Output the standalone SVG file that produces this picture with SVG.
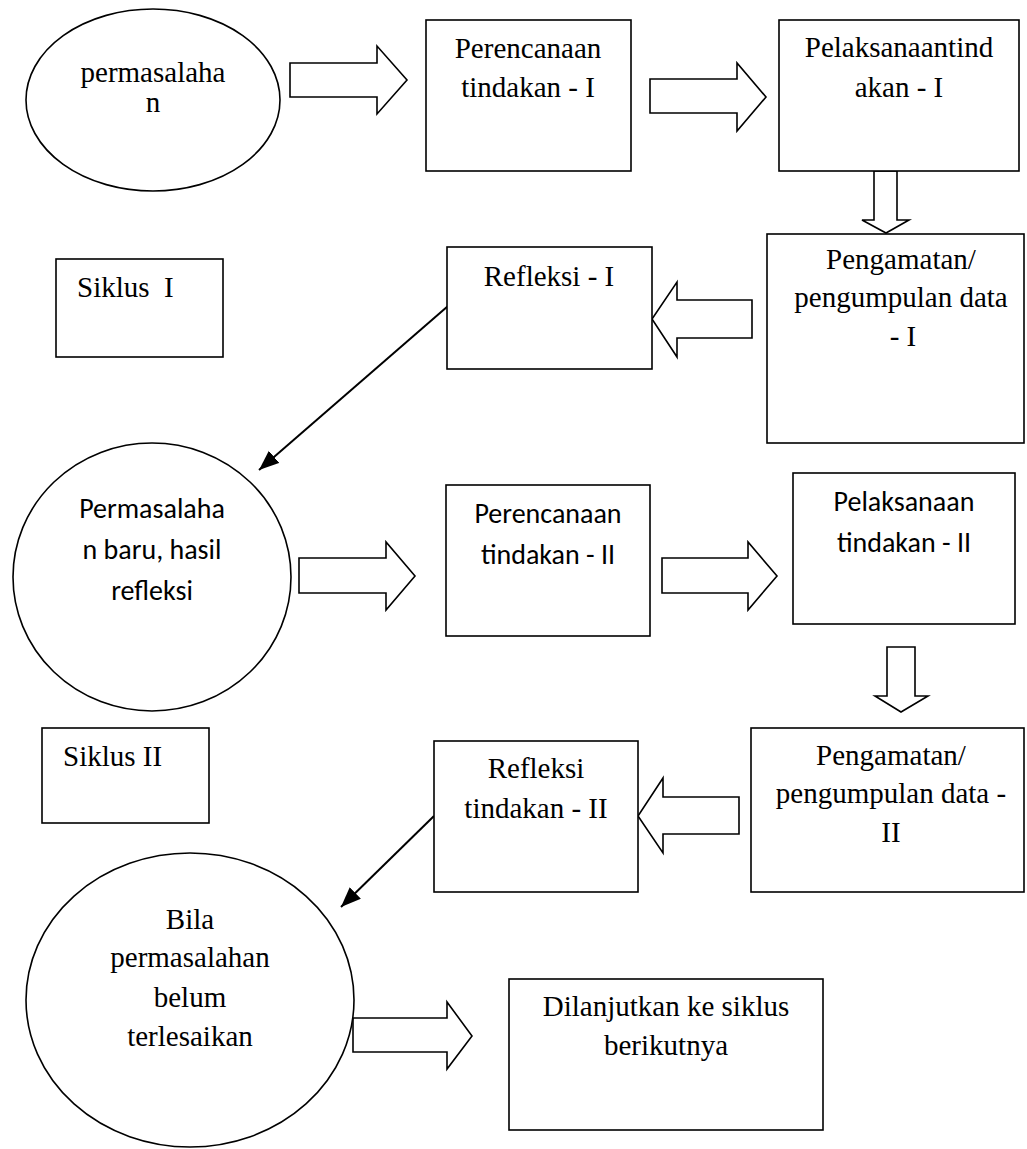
<svg xmlns="http://www.w3.org/2000/svg" width="1027" height="1149" viewBox="0 0 1027 1149">
<style>
  .shape { fill: #fff; stroke: #000; stroke-width: 1.6; }
  .barrow { fill: #fff; stroke: #000; stroke-width: 1.6; stroke-linejoin: miter; }
  .serif { font-family: "Liberation Serif", "Times New Roman", serif; font-size: 29px; fill: #000; }
  .sans { font-family: Carlito, Calibri, Lato, "Open Sans", sans-serif; font-size: 28px; fill: #000; }
  .c { text-anchor: middle; }
  .diag { stroke: #000; stroke-width: 2; fill: none; }
</style>
<defs>
  <marker id="ah" markerUnits="userSpaceOnUse" markerWidth="22" markerHeight="18" refX="20" refY="8" orient="auto">
    <path d="M0,0 L20,8 L0,16 Z" fill="#000"/>
  </marker>
</defs>
<rect width="1027" height="1149" fill="#fff"/>

<g id="connectors">
  <polygon class="barrow" points="290,63 377,63 377,46 407,80 377,114 377,97 290,97"/>
  <polygon class="barrow" points="650,79 737,79 737,63 766,97 737,131 737,113 650,113"/>
  <polygon class="barrow" points="874,171 897,171 897,220 909,220 886,233 862,220 874,220"/>
  <polygon class="barrow" points="752,300 677,300 677,282 652,319 677,357 677,338 752,338"/>
  <line class="diag" x1="448" y1="306" x2="259" y2="470" marker-end="url(#ah)"/>
  <polygon class="barrow" points="299,558 386,558 386,542 415,576 386,610 386,593 299,593"/>
  <polygon class="barrow" points="662,558 748,558 748,542 777,576 748,610 748,593 662,593"/>
  <polygon class="barrow" points="887,647 915,647 915,696 928,696 901,712 875,696 887,696"/>
  <polygon class="barrow" points="739,797 663,797 663,778 638,816 663,853 663,834 739,834"/>
  <line class="diag" x1="434" y1="816" x2="341" y2="907" marker-end="url(#ah)"/>
  <polygon class="barrow" points="353,1018 447,1018 447,1002 472,1036 447,1069 447,1052 353,1052"/>
</g>

<g id="permasalahan">
  <ellipse class="shape" cx="153" cy="100" rx="127" ry="91"/>
  <text class="serif c" x="153" y="82">permasalaha</text>
  <text class="serif c" x="153" y="112">n</text>
</g>

<g id="perencanaan-1">
  <rect class="shape" x="426" y="20" width="205" height="151"/>
  <text class="serif c" x="528" y="58">Perencanaan</text>
  <text class="serif c" x="528" y="97">tindakan - I</text>
</g>

<g id="pelaksanaan-1">
  <rect class="shape" x="779" y="20" width="240" height="151"/>
  <text class="serif c" x="899" y="57">Pelaksanaantind</text>
  <text class="serif c" x="899" y="97">akan - I</text>
</g>

<g id="pengamatan-1">
  <rect class="shape" x="767" y="234" width="257" height="209"/>
  <text class="serif c" x="901" y="269">Pengamatan/</text>
  <text class="serif c" x="901" y="307">pengumpulan data</text>
  <text class="serif c" x="903" y="346">- I</text>
</g>

<g id="refleksi-1">
  <rect class="shape" x="447" y="247" width="205" height="122"/>
  <text class="serif c" x="549" y="286">Refleksi - I</text>
</g>

<g id="siklus-1">
  <rect class="shape" x="56" y="259" width="167" height="98"/>
  <text class="serif" x="77" y="297" xml:space="preserve">Siklus  I</text>
</g>

<g id="permasalahan-baru">
  <ellipse class="shape" cx="152" cy="577" rx="139" ry="134"/>
  <text class="sans c" x="152" y="518">Permasalaha</text>
  <text class="sans c" x="152" y="559">n baru, hasil</text>
  <text class="sans c" x="152" y="600">refleksi</text>
</g>

<g id="perencanaan-2">
  <rect class="shape" x="446" y="485" width="204" height="151"/>
  <text class="sans c" x="548" y="523">Perencanaan</text>
  <text class="sans c" x="548" y="564">tindakan - II</text>
</g>

<g id="pelaksanaan-2">
  <rect class="shape" x="793" y="473" width="222" height="151"/>
  <text class="sans c" x="904" y="511">Pelaksanaan</text>
  <text class="sans c" x="904" y="552">tindakan - II</text>
</g>

<g id="pengamatan-2">
  <rect class="shape" x="751" y="728" width="273" height="164"/>
  <text class="serif c" x="891" y="765">Pengamatan/</text>
  <text class="serif c" x="891" y="803">pengumpulan data -</text>
  <text class="serif c" x="891" y="842">II</text>
</g>

<g id="refleksi-2">
  <rect class="shape" x="434" y="741" width="204" height="151"/>
  <text class="serif c" x="536" y="778">Refleksi</text>
  <text class="serif c" x="536" y="818">tindakan - II</text>
</g>

<g id="siklus-2">
  <rect class="shape" x="42" y="728" width="167" height="95"/>
  <text class="serif" x="63" y="766">Siklus II</text>
</g>

<g id="bila">
  <ellipse class="shape" cx="190" cy="1000" rx="164" ry="147"/>
  <text class="serif c" x="190" y="929">Bila</text>
  <text class="serif c" x="190" y="967">permasalahan</text>
  <text class="serif c" x="190" y="1007">belum</text>
  <text class="serif c" x="190" y="1046">terlesaikan</text>
</g>

<g id="dilanjutkan">
  <rect class="shape" x="509" y="979" width="314" height="151"/>
  <text class="serif c" x="666" y="1016">Dilanjutkan ke siklus</text>
  <text class="serif c" x="666" y="1055">berikutnya</text>
</g>
</svg>
